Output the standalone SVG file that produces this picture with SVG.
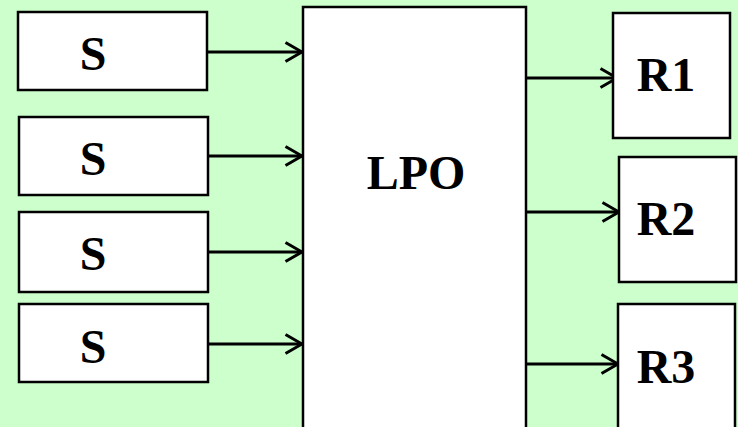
<svg xmlns="http://www.w3.org/2000/svg" width="738" height="427" viewBox="0 0 738 427">
<style>
.box{fill:#fff;stroke:#000;stroke-width:2.5}
.lbl{font-family:"Liberation Serif","Times New Roman",serif;font-weight:bold;font-size:48px;fill:#000}
.con{stroke:#000;stroke-width:3;fill:none}
</style>
<defs>
<marker id="ah" markerWidth="20" markerHeight="24" refX="18" refY="11" orient="auto" markerUnits="userSpaceOnUse">
<path d="M1.5,1.5 L18,11 L1.5,20.5" fill="none" stroke="#000" stroke-width="3"/>
</marker>
</defs>
<rect width="738" height="427" fill="#ccffcc"/>
<g id="connectors">
<line class="con" x1="208" y1="52" x2="302" y2="52" marker-end="url(#ah)"/>
<line class="con" x1="208" y1="156" x2="302" y2="156" marker-end="url(#ah)"/>
<line class="con" x1="208" y1="252" x2="302" y2="252" marker-end="url(#ah)"/>
<line class="con" x1="208" y1="344" x2="302" y2="344" marker-end="url(#ah)"/>
<line class="con" x1="526" y1="78" x2="617" y2="78" marker-end="url(#ah)"/>
<line class="con" x1="526" y1="212" x2="619" y2="212" marker-end="url(#ah)"/>
<line class="con" x1="526" y1="364" x2="618" y2="364" marker-end="url(#ah)"/>
</g>
<g id="s1"><rect class="box" x="18" y="12" width="189" height="78"/><text class="lbl" x="93" y="70" text-anchor="middle">S</text></g>
<g id="s2"><rect class="box" x="19" y="117" width="189" height="78"/><text class="lbl" x="93" y="175" text-anchor="middle">S</text></g>
<g id="s3"><rect class="box" x="19" y="212" width="189" height="80"/><text class="lbl" x="93" y="270" text-anchor="middle">S</text></g>
<g id="s4"><rect class="box" x="19" y="304" width="189" height="78"/><text class="lbl" x="93" y="363" text-anchor="middle">S</text></g>
<g id="lpo"><rect class="box" x="303" y="7" width="223" height="440"/><text class="lbl" x="416" y="189" text-anchor="middle">LPO</text></g>
<g id="r1"><rect class="box" x="613" y="13" width="117" height="125"/><text class="lbl" x="666" y="91" text-anchor="middle">R1</text></g>
<g id="r2"><rect class="box" x="619" y="157" width="117" height="125"/><text class="lbl" x="666" y="235" text-anchor="middle">R2</text></g>
<g id="r3"><rect class="box" x="618" y="304" width="117" height="140"/><text class="lbl" x="666" y="383" text-anchor="middle">R3</text></g>
</svg>
